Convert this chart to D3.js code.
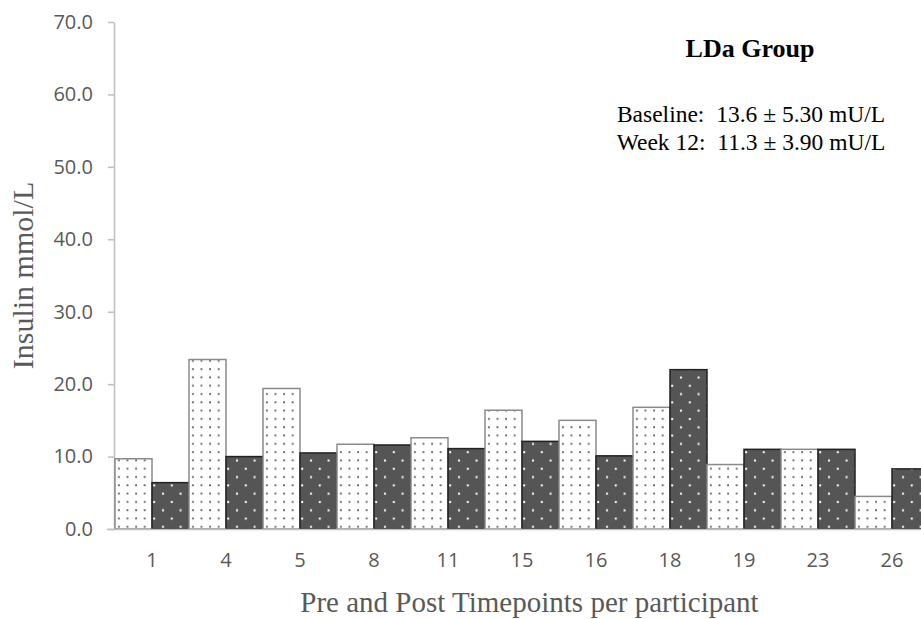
<!DOCTYPE html>
<html>
<head>
<meta charset="utf-8">
<script src="https://cdn.jsdelivr.net/npm/d3@7"></script>
<style>
  body { margin: 0; background: #fff; }
  svg { display: block; }
</style>
</head>
<body>
<div class="root"></div>
<script>
// participant ids on the x axis
var participants = ['1', '4', '5', '8', '11', '15', '16', '18', '19', '23', '26'];
// insulin before (baseline) and after (week 12)
var preValues  = [9.7, 23.4, 19.4, 11.7, 12.6, 16.4, 15.0, 16.8, 8.9, 11.0, 4.5];
var postValues = [6.4, 10.0, 10.5, 11.6, 11.1, 12.1, 10.1, 22.0, 11.0, 11.0, 8.3];
var series = ['pre', 'post'];
var yTicks = [0, 10, 20, 30, 40, 50, 60, 70];
var notes = ['Baseline:  13.6 \u00b1 5.30 mU/L', 'Week 12:  11.3 \u00b1 3.90 mU/L'];

function drawChart() {
  var w = 921;
  var h = 619;
  var serif = '"Liberation Serif", "Times New Roman", serif';
  var sans = '"Open Sans", "Noto Sans", sans-serif';

  var svg = d3.select('.root').append('svg')
    .attr('width', w)
    .attr('height', h);

  // dot fills
  var defs = svg.append('defs');
  var light = defs.append('pattern')
    .attr('id', 'dotsLight')
    .attr('patternUnits', 'userSpaceOnUse')
    .attr('width', 8.6)
    .attr('height', 8.3);
  light.append('rect').attr('width', 8.6).attr('height', 8.3).attr('fill', '#fff');
  light.append('rect').attr('x', 3).attr('y', 3).attr('width', 1.8).attr('height', 1.8).attr('fill', '#5a5a5a');

  var dark = defs.append('pattern')
    .attr('id', 'dotsDark')
    .attr('patternUnits', 'userSpaceOnUse')
    .attr('width', 17.6)
    .attr('height', 16.6);
  dark.append('rect').attr('width', 17.6).attr('height', 16.6).attr('fill', '#555');
  dark.append('rect').attr('x', 3).attr('y', 3).attr('width', 2).attr('height', 2).attr('fill', '#fff');
  dark.append('rect').attr('x', 11.8).attr('y', 11.3).attr('width', 2).attr('height', 2).attr('fill', '#fff');

  var x = d3.scaleBand()
    .domain(participants)
    .range([115, 929])
    .padding(0);

  var xInner = d3.scaleBand()
    .domain(series)
    .range([0, x.bandwidth()])
    .padding(0);

  var y = d3.scaleLinear()
    .domain([0, 70])
    .range([529, 22]);

  // y axis
  var yAxis = svg.append('g')
    .attr('transform', 'translate(114,0)')
    .call(d3.axisLeft(y)
      .tickValues(yTicks)
      .tickSize(6)
      .tickSizeOuter(0)
      .tickPadding(15)
      .tickFormat(d3.format('.1f')));
  yAxis.select('.domain').attr('stroke', '#bfbfbf').attr('stroke-width', 1.5);
  yAxis.selectAll('.tick line').attr('stroke', '#bfbfbf').attr('stroke-width', 1.5);
  yAxis.selectAll('.tick text')
    .attr('fill', '#595959')
    .style('font-family', sans)
    .style('font-size', '20px');

  // bars
  var rows = participants.map(function(p, i) {
    return {id: p, pre: preValues[i], post: postValues[i]};
  });

  var groups = svg.append('g')
    .attr('class', 'bars')
    .selectAll('g')
      .data(rows)
      .enter().append('g')
        .attr('transform', function(d) { return 'translate(' + x(d.id) + ',0)'; });

  groups.selectAll('rect')
    .data(function(d) { return series.map(function(s) { return {key: s, value: d[s]}; }); })
    .enter().append('rect')
      .attr('x', function(d) { return xInner(d.key); })
      .attr('y', function(d) { return y(d.value); })
      .attr('width', xInner.bandwidth())
      .attr('height', function(d) { return y(0) - y(d.value); })
      .attr('fill', function(d) { return d.key === 'pre' ? 'url(#dotsLight)' : 'url(#dotsDark)'; })
      .attr('stroke', function(d) { return d.key === 'pre' ? '#8a8a8a' : '#222'; })
      .attr('stroke-width', 1.5);

  // x axis
  var xAxis = svg.append('g')
    .attr('transform', 'translate(0,529)')
    .call(d3.axisBottom(x).tickSize(0).tickSizeOuter(0).tickPadding(24));
  xAxis.select('.domain').attr('stroke', '#bfbfbf').attr('stroke-width', 1.5)
    .attr('d', 'M107,0.5H921');
  xAxis.selectAll('.tick text')
    .attr('fill', '#595959')
    .style('font-family', sans)
    .style('font-size', '20px');

  // axis titles
  svg.append('text')
    .attr('transform', 'translate(33,275.5) rotate(-90)')
    .attr('text-anchor', 'middle')
    .attr('fill', '#595959')
    .style('font-family', serif)
    .style('font-size', '30px')
    .text('Insulin mmol/L');

  svg.append('text')
    .attr('x', 529.5)
    .attr('y', 612)
    .attr('text-anchor', 'middle')
    .attr('fill', '#595959')
    .style('font-family', serif)
    .style('font-size', '29px')
    .text('Pre and Post Timepoints per participant');

  // group label and summary
  svg.append('text')
    .attr('x', 750)
    .attr('y', 57)
    .attr('text-anchor', 'middle')
    .attr('fill', '#000')
    .style('font-family', serif)
    .style('font-weight', 'bold')
    .style('font-size', '26px')
    .text('LDa Group');

  svg.selectAll('.note')
    .data(notes)
    .enter().append('text')
      .attr('class', 'note')
      .attr('x', 751)
      .attr('y', function(d, i) { return 122 + i * 28; })
      .attr('text-anchor', 'middle')
      .attr('fill', '#000')
      .style('font-family', serif)
      .style('font-size', '23.5px')
      .style('white-space', 'pre')
      .text(function(d) { return d; });
}

window.onload = function() {
  drawChart();
};
</script>
</body>
</html>
